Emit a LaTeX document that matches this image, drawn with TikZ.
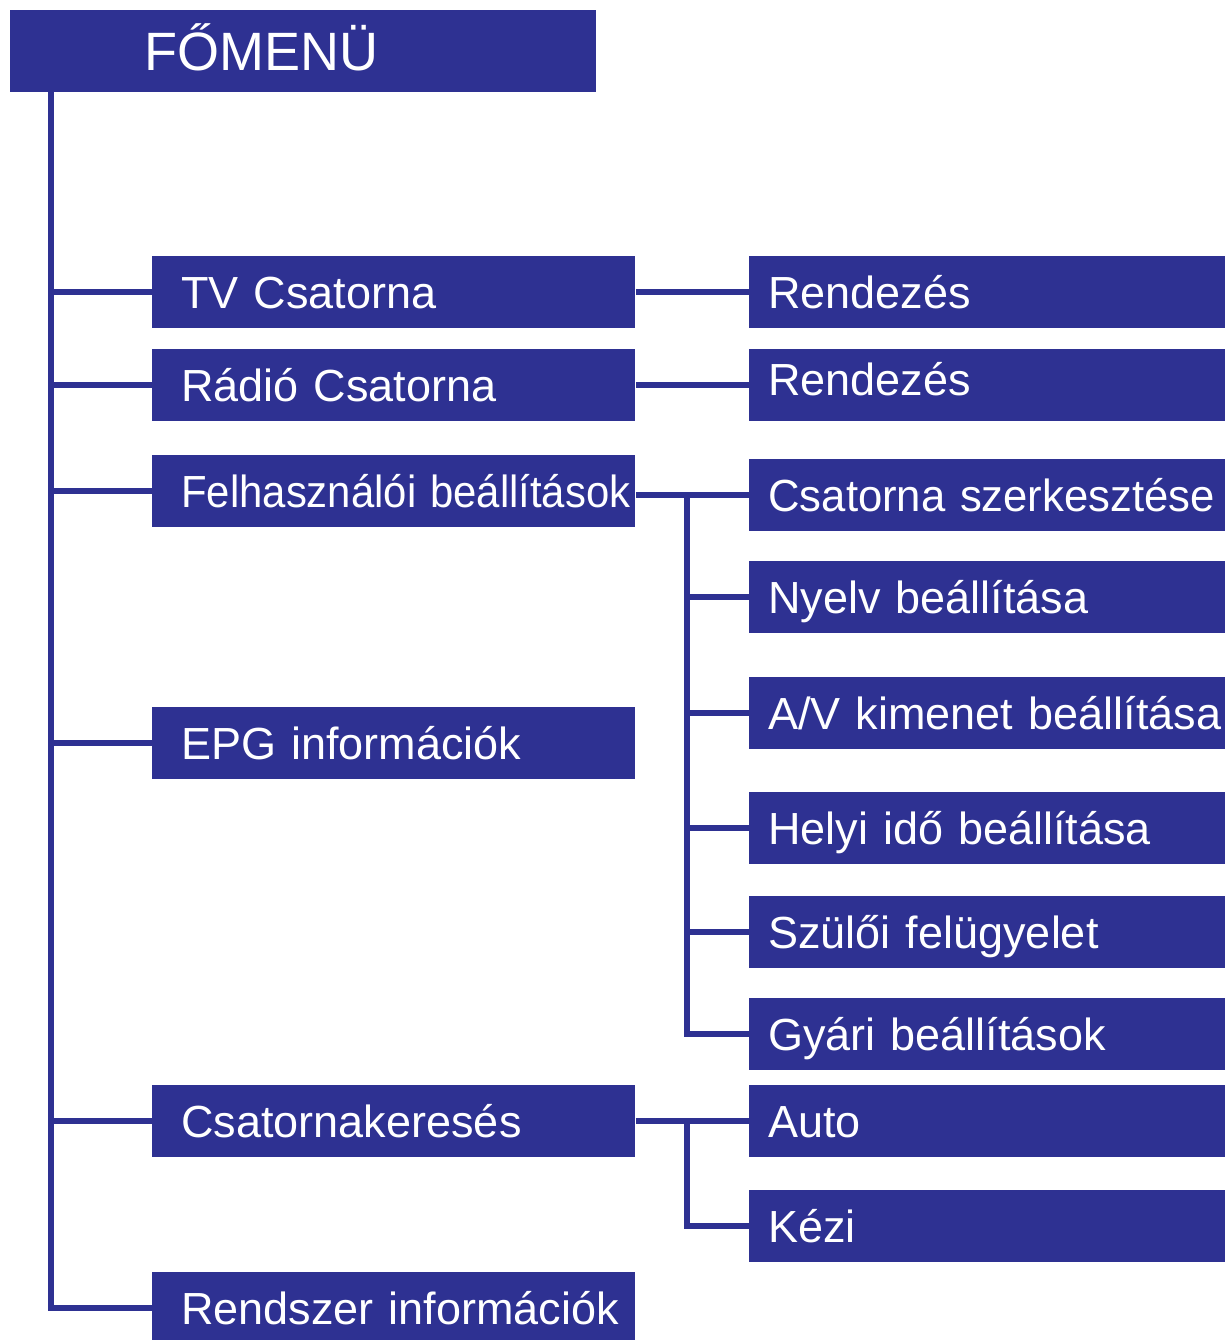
\documentclass[tikz,border=0pt]{standalone}
\usepackage{fontspec}
\setmainfont{Liberation Sans}
\usepackage{xcolor}
\usepackage{graphicx}
\usepackage{tikz}
\usetikzlibrary{}
\definecolor{menublue}{RGB}{46,49,146}

\begin{document}
\begin{tikzpicture}[x=0.5pt,y=-0.5pt,
		menubox/.style={fill=menublue,text=white,anchor=north west,align=left,inner ysep=0pt,
			minimum height=36pt,text height=16pt,text depth=0pt,
			font=\fontsize{22.5}{27}\selectfont},
		mainbox/.style={menubox,inner xsep=14.5pt,text width=212.5pt},
		subbox/.style={menubox,inner xsep=9.5pt,text width=235pt},
		link/.style={draw=menublue,line width=3pt,line join=miter}]
		\useasboundingbox (0,0) rectangle (1225,1340);
		
		\node[menubox,inner xsep=67pt,text width=159pt,minimum height=41pt,text height=19.5pt,
			font=\fontsize{27}{32}\selectfont] (fomenu) at (10,10) {FŐMENÜ};
		
		\node[mainbox] (tv) at (152,256) {TV Csatorna};
		\node[mainbox] (radio) at (152,349) {Rádió Csatorna};
		\node[mainbox] (felh) at (152,455) {\scalebox{0.93}[1]{Felhasználói beállítások}};
		\node[mainbox] (epg) at (152,707) {EPG információk};
		\node[mainbox] (kereses) at (152,1085) {Csatornakeresés};
		\node[mainbox] (rendszer) at (152,1272) {\mbox{Rendszer információk}};
		
		\node[subbox] (rend1) at (749,256) {Rendezés};
		\node[subbox,text height=10pt] (rend2) at (749,349) {Rendezés};
		\node[subbox] (csz) at (749,459) {\scalebox{0.97}[1]{Csatorna szerkesztése}};
		\node[subbox] (nyelv) at (749,561) {Nyelv beállítása};
		\node[subbox] (av) at (749,677) {A/V kimenet beállítása};
		\node[subbox] (helyi) at (749,792) {Helyi idő beállítása};
		\node[subbox] (szuloi) at (749,896) {Szülői felügyelet};
		\node[subbox] (gyari) at (749,998) {Gyári beállítások};
		\node[subbox] (auto) at (749,1085) {Auto};
		\node[subbox] (kezi) at (749,1190) {Kézi};
		
		\coordinate (trunk) at (51,92);
		\coordinate (ubus) at (687,0);
		
		\draw[link] (trunk) |- (rendszer.west);
		\foreach \n in {tv,radio,felh,epg,kereses}
			\draw[link] (trunk |- \n.west) -- (\n.west);
		
		\draw[link] (tv.east) -- (rend1.west);
		\draw[link] (radio.east) -- (rend2.west);
		\draw[link] (felh.east |- csz.west) -- (csz.west);
		\draw[link] (ubus |- csz.west) |- (gyari.west);
		\foreach \n in {nyelv,av,helyi,szuloi}
			\draw[link] (ubus |- \n.west) -- (\n.west);
		\draw[link] (kereses.east) -- (auto.west);
		\draw[link] (ubus |- auto.west) |- (kezi.west);
	\end{tikzpicture}
\end{document}
